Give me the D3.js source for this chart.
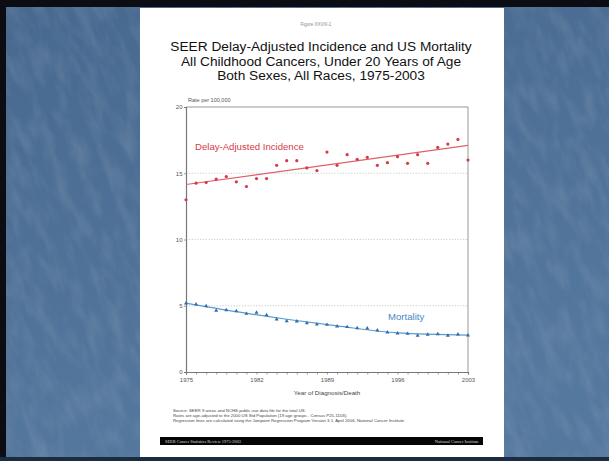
<!DOCTYPE html>
<html>
<head>
<meta charset="utf-8">
<script src="https://cdn.jsdelivr.net/npm/d3@7"></script>
<style>
  html, body { margin: 0; padding: 0; overflow: hidden; background: #000; }
  svg { display: block; font-family: "Liberation Sans", Arial, sans-serif; }
</style>
</head>
<body>
<div id="chart"></div>
<script>
// SEER childhood cancers slide: delay-adjusted incidence vs US mortality, 1975-2003.

const years = d3.range(1975, 2004);

// observed rates per 100,000, one per year
const incidence = [
  13.0, 14.25, 14.3, 14.55, 14.75, 14.35, 14.0, 14.6, 14.6, 15.6,
  15.95, 15.95, 15.4, 15.2, 16.6, 15.6, 16.4, 16.05, 16.2, 15.6,
  15.8, 16.25, 15.75, 16.4, 15.75, 16.95, 17.2, 17.55, 16.0
];
const mortality = [
  5.18, 5.1, 4.98, 4.63, 4.68, 4.6, 4.4, 4.48, 4.3, 3.97,
  3.85, 3.82, 3.7, 3.6, 3.57, 3.45, 3.4, 3.32, 3.3, 3.15,
  3.0, 2.92, 2.89, 2.74, 2.82, 2.87, 2.74, 2.85, 2.77
];

// joinpoint regression lines, read at their bends
const incidenceFit = [[1975, 14.15], [2003, 17.1]];
const mortalityFit = [
  [1975, 5.2], [1980, 4.55], [1985, 3.98], [1990, 3.48], [1996, 2.95], [2003, 2.78]
];

const yTicks = [0, 5, 10, 15, 20];
const xLabels = [1975, 1982, 1989, 1996, 2003];

const titleLines = [
  "SEER Delay-Adjusted Incidence and US Mortality",
  "All Childhood Cancers, Under 20 Years of Age",
  "Both Sexes, All Races, 1975-2003"
];
const notes = [
  "Source: SEER 9 areas and NCHS public use data file for the total US.",
  "Rates are age-adjusted to the 2000 US Std Population (19 age groups - Census P25-1103).",
  "Regression lines are calculated using the Joinpoint Regression Program Version 3.1, April 2006, National Cancer Institute."
];

const W = 609, H = 461;
const page = { x: 140, y: 8, w: 364, h: 449 };
const plot = { left: 186, right: 468, top: 107, bottom: 372 };

const RED = "#d63a48", RED_LINE = "#e0606a";
const BLUE = "#2f6ea8", BLUE_LINE = "#5b9bd0";

const svg = d3.select("#chart").append("svg")
  .attr("width", W).attr("height", H)
  .attr("viewBox", `0 0 ${W} ${H}`);

// ---- slide background
const defs = svg.append("defs");
const grad = defs.append("linearGradient").attr("id", "bg")
  .attr("x1", 0).attr("y1", 0).attr("x2", 0.3).attr("y2", 1);
grad.append("stop").attr("offset", 0).attr("stop-color", "#48698f");
grad.append("stop").attr("offset", 1).attr("stop-color", "#55789e");
const tex = defs.append("filter").attr("id", "tex");
tex.append("feTurbulence").attr("type", "fractalNoise")
  .attr("baseFrequency", "0.08 0.03").attr("numOctaves", 3).attr("seed", 4);
tex.append("feColorMatrix").attr("type", "matrix")
  .attr("values", "0 0 0 0 1  0 0 0 0 1  0 0 0 0 1  0 0 0 0.2 -0.08");

svg.append("rect").attr("width", W).attr("height", H).attr("fill", "url(#bg)");
svg.append("g").attr("transform", `rotate(-20 ${W / 2} ${H / 2})`)
  .append("rect").attr("x", -150).attr("y", -150).attr("width", W + 300).attr("height", H + 300)
  .attr("filter", "url(#tex)");

// slide frame
svg.append("rect").attr("x", 0).attr("y", 0).attr("width", W).attr("height", 7).attr("fill", "#0b0d12");
svg.append("rect").attr("x", 0).attr("y", 0).attr("width", 6).attr("height", H).attr("fill", "#0b0d12");
svg.append("rect").attr("x", 0).attr("y", 457).attr("width", W).attr("height", 4).attr("fill", "#1c2c40");

// ---- white page
svg.append("rect").attr("x", page.x).attr("y", page.y)
  .attr("width", page.w).attr("height", page.h).attr("fill", "#fff");

const cx = 321;
svg.append("text").attr("x", 316).attr("y", 25.5)
  .attr("text-anchor", "middle").attr("font-size", 4.5).attr("fill", "#888")
  .text("Figure XXVIII-1");

svg.append("g").selectAll("text").data(titleLines).join("text")
  .attr("x", cx).attr("y", (d, i) => 51.3 + i * 14.3)
  .attr("text-anchor", "middle").attr("font-size", 13.7).attr("fill", "#111")
  .text((d) => d);

// ---- scales
const x = d3.scaleLinear().domain([1975, 2003]).range([plot.left, plot.right]);
const y = d3.scaleLinear().domain([0, 20]).range([plot.bottom, plot.top]);

// grid
svg.append("g").selectAll("line").data(yTicks.filter((t) => t > 0 && t < 20)).join("line")
  .attr("x1", plot.left).attr("x2", plot.right)
  .attr("y1", (d) => y(d)).attr("y2", (d) => y(d))
  .attr("stroke", "#b8b8b8").attr("stroke-width", 0.7).attr("stroke-dasharray", "1.2,1.6");

// frame top/right
svg.append("path")
  .attr("d", `M${plot.left},${plot.top}H${plot.right}V${plot.bottom}`)
  .attr("fill", "none").attr("stroke", "#999").attr("stroke-width", 1);

// axes
const yAxis = svg.append("g").attr("transform", `translate(${plot.left},0)`)
  .call(d3.axisLeft(y).tickValues(yTicks).tickSize(2).tickPadding(1.5));
const xAxis = svg.append("g").attr("transform", `translate(0,${plot.bottom})`)
  .call(d3.axisBottom(x).tickValues(years).tickSize(2.5).tickPadding(3)
    .tickFormat((d) => (xLabels.includes(d) ? d : "")));
[yAxis, xAxis].forEach((g) => {
  g.select(".domain").attr("stroke", "#777").attr("stroke-width", 1.2);
  g.selectAll(".tick line").attr("stroke", "#777").attr("stroke-width", 0.7);
  g.selectAll(".tick text").attr("fill", "#555").attr("font-size", 6)
    .attr("font-family", "Liberation Sans, Arial, sans-serif");
});

svg.append("text").attr("x", plot.left + 2).attr("y", 102)
  .attr("font-size", 5.5).attr("fill", "#555").text("Rate per 100,000");
svg.append("text").attr("x", 327).attr("y", 395)
  .attr("text-anchor", "middle").attr("font-size", 6.2).attr("fill", "#444")
  .text("Year of Diagnosis/Death");

// ---- fitted lines
const line = d3.line().x((d) => x(d[0])).y((d) => y(d[1]));
svg.append("path").datum(incidenceFit).attr("d", line)
  .attr("fill", "none").attr("stroke", RED_LINE).attr("stroke-width", 1.2);
svg.append("path").datum(mortalityFit).attr("d", line.curve(d3.curveMonotoneX))
  .attr("fill", "none").attr("stroke", BLUE_LINE).attr("stroke-width", 1.2);

// ---- observed points
svg.append("g").selectAll("circle").data(incidence).join("circle")
  .attr("cx", (d, i) => x(years[i])).attr("cy", (d) => y(d))
  .attr("r", 1.6).attr("fill", RED);

const tri = d3.symbol().type(d3.symbolTriangle).size(7);
svg.append("g").selectAll("path").data(mortality).join("path")
  .attr("transform", (d, i) => `translate(${x(years[i])},${y(d)})`)
  .attr("d", tri).attr("fill", BLUE);

// series labels
svg.append("text").attr("x", 195).attr("y", 149.5)
  .attr("font-size", 9.6).attr("fill", RED).text("Delay-Adjusted Incidence");
svg.append("text").attr("x", 388).attr("y", 320)
  .attr("font-size", 9.6).attr("fill", "#4a88c4").text("Mortality");

// ---- notes and footer
svg.append("g").selectAll("text").data(notes).join("text")
  .attr("x", 173).attr("y", (d, i) => 411.5 + i * 5)
  .attr("font-size", 4.3).attr("fill", "#444").text((d) => d);

svg.append("rect").attr("x", 160).attr("y", 437).attr("width", 323).attr("height", 8).attr("fill", "#050505");
svg.append("text").attr("x", 165).attr("y", 442.6)
  .attr("font-size", 4.4).attr("fill", "#ddd").attr("font-family", "Liberation Serif, serif")
  .text("SEER Cancer Statistics Review 1975-2003");
svg.append("text").attr("x", 479).attr("y", 442.6).attr("text-anchor", "end")
  .attr("font-size", 4.4).attr("fill", "#ddd").attr("font-family", "Liberation Serif, serif")
  .text("National Cancer Institute");
</script>
</body>
</html>
